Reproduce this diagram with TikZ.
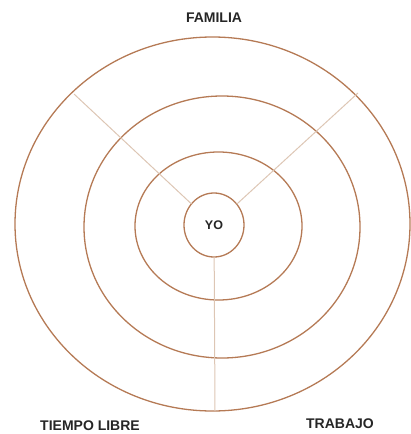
\documentclass[tikz,border=0pt]{standalone}
\usepackage{fontspec}
\setmainfont{Liberation Sans}
\usetikzlibrary{shapes.geometric}
\definecolor{ringc}{HTML}{B57A55}
\definecolor{spokec}{HTML}{DDC6B4}
\tikzset{
  ring/.style={ellipse, draw=ringc, line width=1.3pt, inner sep=0pt, outer sep=0pt},
  spoke/.style={draw=spokec, line width=1pt},
  lbl/.style={font=\bfseries\fontsize{14}{16}\selectfont, text=black!85, inner sep=0pt}
}
\begin{document}
\begin{tikzpicture}[x=1pt,y=-1pt]
\useasboundingbox (0,0) rectangle (410,434);
\node[ring, minimum width=395pt, minimum height=374pt] (outer) at (212.5,224) {};
\node[ring, minimum width=276pt, minimum height=262pt] (middle) at (222,227) {};
\node[ring, minimum width=167pt, minimum height=148pt] (inner) at (218.5,226) {};
\node[ring, fill=white, minimum width=60pt, minimum height=64pt, font=\bfseries\fontsize{12.5}{14}\selectfont, text=black!85] (yo) at (214,225) {YO};
\coordinate (c1) at (74,94);
\coordinate (c2) at (358,93);
\coordinate (c3) at (215,411);
\draw[spoke] (yo) -- (c1);
\draw[spoke] (yo) -- (c2);
\draw[spoke] (yo) -- (c3);
\node[lbl] (familia) at (214,18) {FAMILIA};
\node[lbl] (tiempo) at (90,425.5) {TIEMPO LIBRE};
\node[lbl] (trabajo) at (340,424) {TRABAJO};
\end{tikzpicture}
\end{document}
